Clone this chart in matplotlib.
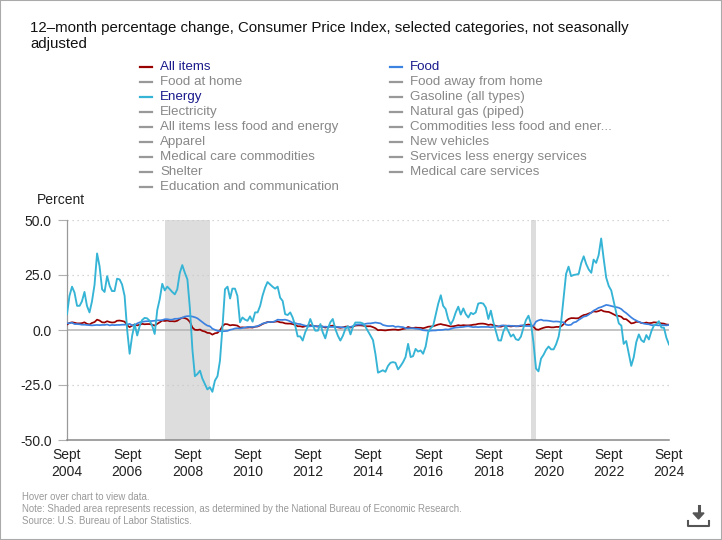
import matplotlib
matplotlib.use('Agg')
import matplotlib.pyplot as plt
import pandas as pd
from matplotlib.lines import Line2D
from matplotlib.patches import Rectangle, Polygon

plt.rcParams['font.family'] = ['Liberation Sans', 'DejaVu Sans']

W, H = 722, 540

# monthly, Sept 2004 .. Sept 2024
months = pd.date_range('2004-09-01', '2024-09-01', freq='MS')

all_items = [
    2.5, 3.2, 3.5, 3.3,
    3.0, 3.0, 3.1, 3.5, 2.8, 2.5, 3.2, 3.6, 4.7, 4.3, 3.5, 3.4,
    4.0, 3.6, 3.4, 3.5, 4.2, 4.3, 4.1, 3.8, 2.1, 1.3, 2.0, 2.5,
    2.1, 2.4, 2.8, 2.6, 2.7, 2.7, 2.4, 2.0, 2.8, 3.5, 4.3, 4.1,
    4.3, 4.0, 4.0, 3.9, 4.2, 5.0, 5.6, 5.4, 4.9, 3.7, 1.1, 0.1,
    0.0, 0.2, -0.4, -0.7, -1.3, -1.4, -2.1, -1.5, -1.3, -0.2, 1.8, 2.7,
    2.6, 2.1, 2.3, 2.2, 2.0, 1.1, 1.2, 1.1, 1.1, 1.2, 1.1, 1.5,
    1.6, 2.1, 2.7, 3.2, 3.6, 3.6, 3.6, 3.8, 3.9, 3.5, 3.4, 3.0,
    2.9, 2.9, 2.7, 2.3, 1.7, 1.7, 1.4, 1.7, 2.0, 2.2, 1.8, 1.7,
    1.6, 2.0, 1.5, 1.1, 1.4, 1.8, 2.0, 1.5, 1.2, 1.0, 1.2, 1.5,
    1.6, 1.1, 1.5, 2.0, 2.1, 2.1, 2.0, 1.7, 1.7, 1.7, 1.3, 0.8,
    -0.1, 0.0, -0.1, -0.2, 0.0, 0.1, 0.2, 0.2, 0.0, 0.2, 0.5, 0.7,
    1.4, 1.0, 0.9, 1.1, 1.0, 1.0, 0.8, 1.1, 1.5, 1.6, 1.7, 2.1,
    2.5, 2.7, 2.4, 2.2, 1.9, 1.6, 1.7, 1.9, 2.2, 2.0, 2.2, 2.1,
    2.1, 2.2, 2.4, 2.5, 2.8, 2.9, 2.9, 2.7, 2.3, 2.5, 2.2, 1.9,
    1.6, 1.5, 1.9, 2.0, 1.8, 1.6, 1.8, 1.7, 1.7, 1.8, 2.1, 2.3,
    2.5, 2.3, 1.5, 0.3, 0.1, 0.6, 1.0, 1.3, 1.4, 1.2, 1.2, 1.4,
    1.4, 1.7, 2.6, 4.2, 5.0, 5.4, 5.4, 5.3, 5.4, 6.2, 6.8, 7.0,
    7.5, 7.9, 8.5, 8.3, 8.6, 9.1, 8.5, 8.3, 8.2, 7.7, 7.1, 6.5,
    6.4, 6.0, 5.0, 4.9, 4.0, 3.0, 3.2, 3.7, 3.7, 3.2, 3.1, 3.4,
    3.1, 3.2, 3.5, 3.4, 3.3, 3.0, 2.9, 2.5, 2.4,
]

food = [
    3.0, 3.1, 3.3, 2.7,
    2.7, 2.6, 2.4, 2.4, 2.3, 2.2, 2.1, 2.2, 2.3, 2.2, 2.3, 2.3,
    2.5, 2.1, 2.3, 2.2, 2.3, 2.3, 2.4, 2.4, 2.5, 2.8, 2.1, 2.1,
    3.0, 3.5, 3.7, 3.9, 4.0, 4.0, 4.1, 4.2, 4.4, 4.4, 4.5, 4.9,
    4.9, 4.7, 4.7, 5.1, 5.1, 5.3, 5.6, 6.1, 6.3, 6.3, 6.1, 5.8,
    5.3, 4.4, 3.6, 2.7, 2.0, 1.7, 0.6, 0.1, -0.4, -0.5, -0.6, -0.5,
    -0.4, 0.1, 0.3, 0.7, 0.8, 0.7, 0.9, 1.1, 1.4, 1.4, 1.4, 1.5,
    1.8, 2.3, 2.9, 3.2, 3.5, 3.7, 3.6, 4.0, 4.7, 4.6, 4.6, 4.7,
    4.4, 3.9, 3.3, 3.1, 2.8, 2.7, 2.3, 2.0, 1.6, 1.7, 1.8, 1.8,
    1.6, 1.6, 1.5, 1.5, 1.4, 1.4, 1.4, 1.4, 1.4, 1.3, 1.2, 1.1,
    1.1, 1.4, 1.7, 2.3, 2.5, 2.5, 2.4, 2.8, 3.0, 3.0, 3.2, 3.4,
    3.2, 3.0, 2.3, 2.0, 1.8, 1.8, 1.9, 1.4, 1.6, 1.4, 1.3, 0.8,
    0.7, 0.8, 0.8, 0.6, 0.5, 0.3, -0.1, -0.2, -0.3, -0.3, -0.2, -0.2,
    0.0, 0.0, 0.1, 0.3, 0.2, 0.5, 0.9, 1.1, 1.2, 1.3, 1.4, 1.6,
    1.7, 1.5, 1.3, 1.4, 1.3, 1.4, 1.4, 1.4, 1.4, 1.2, 1.4, 1.6,
    1.6, 2.0, 2.1, 1.8, 2.0, 1.9, 1.9, 1.7, 1.8, 2.1, 2.0, 1.8,
    1.8, 1.8, 1.9, 3.8, 4.4, 4.7, 4.3, 4.3, 4.2, 4.0, 3.8, 3.9,
    3.8, 3.6, 3.5, 2.4, 2.2, 2.4, 3.4, 3.7, 4.6, 5.3, 6.1, 6.3,
    7.0, 7.9, 8.8, 9.4, 10.1, 10.4, 10.9, 11.4, 11.2, 10.9, 10.6, 10.4,
    10.1, 9.5, 8.5, 7.7, 6.7, 5.7, 4.9, 4.3, 3.7, 3.3, 2.9, 2.7,
    2.6, 2.2, 2.2, 2.2, 2.1, 2.2, 2.2, 2.1, 2.3,
]

energy = [
    7.2, 15.5, 19.7, 17.0,
    11.0, 11.0, 13.0, 17.3, 11.0, 8.0, 13.0, 20.5, 34.8, 29.0, 18.5, 17.3,
    24.5, 20.0, 17.7, 17.7, 23.3, 23.0, 20.7, 15.5, 0.0, -10.8, -2.5, 2.7,
    -2.5, 2.0, 4.5, 5.5, 5.3, 4.2, 2.0, -1.8, 9.0, 14.0, 21.0, 18.0,
    19.7, 18.5, 17.3, 16.2, 18.5, 26.0, 29.5, 26.0, 23.0, 10.0, -9.0, -21.0,
    -20.0, -18.5, -22.0, -24.5, -27.0, -26.0, -28.1, -23.0, -21.0, -14.0, 1.5, 18.5,
    19.7, 14.3, 18.8, 18.8, 15.5, 3.5, 5.7, 4.7, 4.2, 6.2, 3.8, 8.0,
    8.0, 11.0, 15.5, 19.2, 21.8, 20.7, 19.7, 18.8, 19.7, 14.7, 13.2, 7.2,
    6.8, 8.0, 5.7, 2.0, -2.9, -2.9, -4.8, -1.0, 1.5, 5.0, 2.0, -0.3,
    -0.3, 2.7, -1.0, -3.8, 0.5, 3.5, 5.0, 0.5, -2.6, -4.8, -2.6, 0.5,
    1.7, -2.0, 1.2, 3.4, 3.4, 3.4, 3.0, 1.5, -0.5, -2.5, -4.6, -11.0,
    -19.4, -18.8, -18.3, -19.0, -16.4, -14.9, -14.6, -14.9, -17.9, -16.4, -14.6, -12.3,
    -6.3, -12.3, -11.9, -8.6, -9.8, -9.3, -10.8, -7.5, -1.0, 0.8, 2.0, 7.0,
    12.0, 15.8, 11.0, 9.5, 5.0, 2.5, 4.5, 8.0, 10.6, 7.0, 9.8, 7.2,
    5.7, 7.8, 7.2, 8.0, 12.0, 12.3, 12.0, 10.2, 5.0, 8.8, 3.5, -0.5,
    -4.7, -4.8, -0.8, 1.8, -0.5, -3.0, -2.0, -4.2, -4.6, -3.0, 1.0, 4.5,
    6.5, 2.7, -5.6, -17.5, -18.8, -13.0, -11.3, -9.0, -7.5, -8.8, -8.8, -6.5,
    -3.0, 4.0, 14.0, 25.5, 28.8, 24.5, 25.0, 25.2, 25.5, 30.3, 33.5, 30.0,
    27.5, 26.0, 32.0, 30.5, 34.0, 41.6, 32.5, 23.8, 20.0, 18.0, 12.8, 7.8,
    3.0, 2.0, -6.3, -5.0, -10.5, -16.3, -12.4, -5.5, -2.0, -4.6, -5.5, -2.3,
    -4.3, -0.5, 2.0, 2.6, 4.0, 1.1, 1.1, -3.6, -6.6,
]

recessions = [('2007-12-01', '2009-06-01'), ('2020-02-01', '2020-04-01')]

legend_left = ['All items', 'Food at home', 'Energy', 'Electricity',
               'All items less food and energy', 'Apparel',
               'Medical care commodities', 'Shelter',
               'Education and communication']
legend_right = ['Food', 'Food away from home', 'Gasoline (all types)',
                'Natural gas (piped)', 'Commodities less food and ener...',
                'New vehicles', 'Services less energy services',
                'Medical care services']

colors = {'All items': '#990000', 'Food': '#3c82e0', 'Energy': '#35b4d6'}

tick_years = list(range(2004, 2025, 2))


def fx(px):
    return px / W


def fy(py):
    return 1 - py / H


fig = plt.figure(figsize=(W / 100, H / 100), dpi=100)
fig.patch.set_facecolor('white')

ax = fig.add_axes([fx(67), fy(440), fx(669) - fx(67), fy(220) - fy(440)])

for start, end in recessions:
    ax.axvspan(pd.Timestamp(start), pd.Timestamp(end), color='#dddddd', lw=0, zorder=0)

ax.axhline(0, color='#b4b4b4', lw=1.1, zorder=1)
for v in (50, 25, -25):
    ax.axhline(v, color='#c8c8c8', lw=0.9, ls=(0, (1, 3)), zorder=1)

ax.plot(months, all_items, color=colors['All items'], lw=1.25, zorder=3)
ax.plot(months, food, color=colors['Food'], lw=1.25, zorder=4)
ax.plot(months, energy, color=colors['Energy'], lw=1.35, zorder=5)

ax.set_xlim(months[0], months[-1])
ax.set_ylim(-50, 50)
ax.set_yticks([-50, -25, 0, 25, 50])
ax.set_yticklabels([f'{v:.1f}' for v in [-50, -25, 0, 25, 50]])
ax.set_xticks([pd.Timestamp(f'{y}-09-01') for y in tick_years])
ax.set_xticklabels([f'Sept\n{y}' for y in tick_years], linespacing=1.35)

ax.tick_params(axis='y', length=6.5, width=0.8, color='#b0b0b0', pad=4.5,
               labelsize=10, labelcolor='#222222')
ax.tick_params(axis='x', length=0, pad=5.5, labelsize=10, labelcolor='#222222')
for s in ('top', 'right'):
    ax.spines[s].set_visible(False)
ax.spines['left'].set_color('#999999')
ax.spines['bottom'].set_color('#888888')
ax.spines['left'].set_linewidth(0.9)
ax.spines['bottom'].set_linewidth(1.1)

fig.text(fx(30), fy(21), '12\u2013month percentage change, Consumer Price Index, selected categories, not seasonally\nadjusted',
         ha='left', va='top', fontsize=10.8, color='#111111', linespacing=1.2)

fig.text(fx(37), fy(200), 'Percent', ha='left', va='center', fontsize=10, color='#222222')

# legend
for col, (labels, lx) in enumerate([(legend_left, 140), (legend_right, 390)]):
    for i, lab in enumerate(labels):
        y = 67 + 15 * i
        active = lab in colors
        lc = colors[lab] if active else '#999999'
        fig.add_artist(Line2D([fx(lx), fx(lx + 12)], [fy(y), fy(y)], color=lc, lw=1.6))
        fig.text(fx(lx + 20), fy(y), lab, ha='left', va='center', fontsize=9.6,
                 color='#1a1a8c' if active else '#888888')

notes = ['Hover over chart to view data.',
         'Note: Shaded area represents recession, as determined by the National Bureau of Economic Research.',
         'Source: U.S. Bureau of Labor Statistics.']
for i, t in enumerate(notes):
    fig.text(fx(22), fy(497 + 12 * i), t, ha='left', va='center', fontsize=6.9, color='#999999')

# download icon
fig.add_artist(Line2D([fx(698.5), fx(698.5)], [fy(506), fy(514)], color='#555555', lw=2.2))
fig.add_artist(Polygon([[fx(693), fy(513)], [fx(704), fy(513)], [fx(698.5), fy(519)]],
                       closed=True, color='#555555'))
fig.add_artist(Line2D([fx(688), fx(688), fx(709), fx(709)], [fy(521), fy(526), fy(526), fy(521)],
                      color='#555555', lw=1.5))

fig.add_artist(Rectangle((0, 0), 1, 1, transform=fig.transFigure, fill=False,
                         edgecolor='#aaaaaa', lw=1.5))

fig.savefig('out.png', dpi=100)
